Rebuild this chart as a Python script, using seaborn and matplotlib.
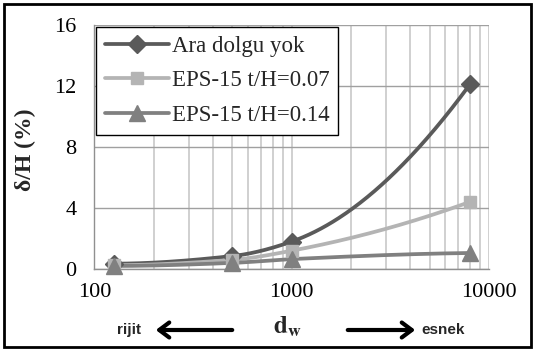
import numpy as np
import pandas as pd
import matplotlib
matplotlib.use("Agg")
import matplotlib.pyplot as plt
from matplotlib.lines import Line2D
from matplotlib.patches import Rectangle, FancyArrowPatch
import seaborn as sns

# ---- data ----
dw = [125, 500, 1000, 8000]
ara_dolgu_yok = [0.35, 0.85, 1.8, 12.1]
eps15_007 = [0.25, 0.6, 1.2, 4.4]
eps15_014 = [0.2, 0.4, 0.65, 1.05]
series_names = ["Ara dolgu yok", "EPS-15 t/H=0.07", "EPS-15 t/H=0.14"]
y_ticks = [0, 4, 8, 12, 16]
x_ticks = [100, 1000, 10000]

colors = ["#5a5a5a", "#b4b4b4", "#808080"]
markers = ["D", "s", "^"]
msizes = [9, 8, 12]


def pchip(x, y, xn):
    x = np.asarray(x, float); y = np.asarray(y, float)
    h = np.diff(x); s = np.diff(y) / h
    n = len(x); m = np.zeros(n)
    for k in range(1, n - 1):
        if s[k - 1] * s[k] <= 0:
            m[k] = 0
        else:
            w1 = 2 * h[k] + h[k - 1]; w2 = h[k] + 2 * h[k - 1]
            m[k] = (w1 + w2) / (w1 / s[k - 1] + w2 / s[k])
    def endslope(h0, h1, s0, s1):
        d = ((2 * h0 + h1) * s0 - h0 * s1) / (h0 + h1)
        if np.sign(d) != np.sign(s0):
            d = 0
        elif np.sign(s0) != np.sign(s1) and abs(d) > abs(3 * s0):
            d = 3 * s0
        return d
    m[0] = endslope(h[0], h[1], s[0], s[1])
    m[-1] = endslope(h[-1], h[-2], s[-1], s[-2])
    out = np.empty_like(xn)
    for i, xv in enumerate(xn):
        k = min(max(np.searchsorted(x, xv) - 1, 0), n - 2)
        t = (xv - x[k]) / h[k]
        h00 = 2 * t**3 - 3 * t**2 + 1; h10 = t**3 - 2 * t**2 + t
        h01 = -2 * t**3 + 3 * t**2; h11 = t**3 - t**2
        out[i] = h00 * y[k] + h10 * h[k] * m[k] + h01 * y[k + 1] + h11 * h[k] * m[k + 1]
    return out


sns.set_theme(style="white")
plt.rcParams["font.family"] = ["Liberation Serif", "DejaVu Serif"]
plt.rcParams["mathtext.fontset"] = "stix"

fig = plt.figure(figsize=(5.35, 3.51), dpi=100)
ax = fig.add_axes([0.1766, 0.2336, 0.914 - 0.1766, 0.9288 - 0.2336])

lx = np.log10(dw)
xs = np.linspace(lx[0], lx[-1], 300)
frames = []
for name, vals in zip(series_names, [ara_dolgu_yok, eps15_007, eps15_014]):
    frames.append(pd.DataFrame({"dw": 10 ** xs, "val": pchip(lx, vals, xs), "series": name}))
smooth = pd.concat(frames, ignore_index=True)
pts = pd.DataFrame({
    "dw": dw * 3,
    "val": ara_dolgu_yok + eps15_007 + eps15_014,
    "series": sum([[n] * len(dw) for n in series_names], []),
})

pal = dict(zip(series_names, colors))
sns.lineplot(data=smooth, x="dw", y="val", hue="series", palette=pal,
             linewidth=2.7, legend=False, ax=ax, sort=False, zorder=3)
for name, c, mk, ms in zip(series_names, colors, markers, msizes):
    sub = pts[pts.series == name]
    ax.plot(sub.dw, sub.val, linestyle="none", marker=mk, ms=ms, color=c,
            markeredgecolor=c, zorder=4, clip_on=False)

ax.set_xscale("log")
ax.set_xlim(100, 10000)
ax.set_ylim(0, 16)
ax.set_xticks(x_ticks)
ax.set_xticklabels([str(v) for v in x_ticks])
ax.set_yticks(y_ticks)
ax.set_yticklabels([str(v) for v in y_ticks])
ax.xaxis.set_minor_locator(matplotlib.ticker.LogLocator(base=10, subs=np.arange(2, 10)))
ax.xaxis.set_minor_formatter(matplotlib.ticker.NullFormatter())
ax.grid(True, which="both", axis="x", color="#c8c8c8", linewidth=1.2)
ax.grid(True, which="major", axis="y", color="#a0a0a0", linewidth=1.0)
for sp in ["top", "right"]:
    ax.spines[sp].set_visible(False)
for sp in ["left", "bottom"]:
    ax.spines[sp].set_color("#909090")
    ax.spines[sp].set_linewidth(1.0)
ax.tick_params(axis="both", which="major", direction="out", length=5, width=1,
               color="#909090", labelsize=16, colors="#909090", labelcolor="black")
ax.tick_params(axis="x", which="minor", length=0)
ax.tick_params(axis="x", pad=5)
ax.tick_params(axis="y", pad=8)
ax.set_xlabel("")
ax.set_ylabel("")

handles = [Line2D([0], [0], color=c, lw=2.7, marker=mk, ms=ms, markeredgecolor=c)
           for c, mk, ms in zip(colors, markers, msizes)]
leg = ax.legend(handles, series_names, loc="upper left", bbox_to_anchor=(0.004, 0.993),
                borderaxespad=0, frameon=True, fancybox=False, framealpha=1,
                edgecolor="black", fontsize=16.5, handlelength=2.8, handletextpad=0.1,
                labelspacing=0.58, borderpad=0.4)
leg.get_frame().set_linewidth(1.0)
leg.set_zorder(5)

fig.text(25 / 535, 1 - 150 / 351, "δ/H (%)", rotation=90, ha="center", va="center",
         fontsize=17, fontweight="bold")

ytxt = 1 - 330 / 351
sans = ["Liberation Sans", "DejaVu Sans"]
fig.text(129 / 535, ytxt, "rijit", ha="center", va="center", fontsize=11,
         fontweight="bold", family=sans)
fig.text(443 / 535, ytxt, "esnek", ha="center", va="center", fontsize=11,
         fontweight="bold", family=sans)
fig.text(287 / 535, 1 - 327 / 351, r"$\mathbf{d}_{\mathbf{w}}$", ha="center",
         va="center", fontsize=18)
arrow_kw = dict(arrowstyle="->,head_length=0.6,head_width=0.45", lw=3, color="black")
fig.patches.append(FancyArrowPatch(
    (235 / 535, ytxt), (153 / 535, ytxt), transform=fig.transFigure,
    mutation_scale=12, **arrow_kw))
fig.patches.append(FancyArrowPatch(
    (345 / 535, ytxt), (418 / 535, ytxt), transform=fig.transFigure,
    mutation_scale=12, **arrow_kw))

fig.patches.append(Rectangle((4 / 535, 4 / 351), 527 / 535, 343 / 351,
                             transform=fig.transFigure, fill=False,
                             edgecolor="black", linewidth=2))

fig.savefig("out.png", dpi=100)
